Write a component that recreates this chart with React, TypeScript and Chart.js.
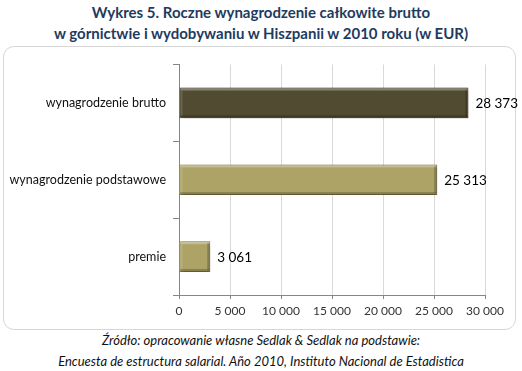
import React, { useEffect, useRef } from "react";
import { Chart, registerables } from "chart.js";

Chart.register(...registerables);

const titleLines = [
  "Wykres 5. Roczne wynagrodzenie całkowite brutto",
  "w górnictwie i wydobywaniu w Hiszpanii w 2010 roku (w EUR)",
];
const categories = ["wynagrodzenie brutto", "wynagrodzenie podstawowe", "premie"];
const values = [28373, 25313, 3061];
const valueLabels = ["28 373", "25 313", "3 061"];
const barColors = ["#504b31", "#ada366", "#ada366"];
const barBorders = ["#3a3622", "#857c48", "#857c48"];
const xTicks = [0, 5000, 10000, 15000, 20000, 25000, 30000];
const sourceLines = [
  "Źródło: opracowanie własne Sedlak & Sedlak na podstawie:",
  "Encuesta de estructura salarial. Año 2010, Instituto Nacional de Estadistica",
];

const fmt = (v: number) =>
  String(v).replace(/\B(?=(\d{3})+(?!\d))/g, " ");

const CANVAS_LEFT = 6;
const CANVAS_TOP = 50;
const CANVAS_W = 516;
const CANVAS_H = 276;

export default function App() {
  const ref = useRef<HTMLCanvasElement | null>(null);

  useEffect(() => {
    document.body.style.margin = "0";
    const canvas = ref.current;
    if (!canvas) return;

    const shadowPlugin = {
      id: "shadowPlugin",
      beforeDatasetsDraw(chart: any) {
        const ctx = chart.ctx;
        ctx.save();
        ctx.shadowColor = "rgba(0,0,0,0.35)";
        ctx.shadowBlur = 4;
        ctx.shadowOffsetX = 2;
        ctx.shadowOffsetY = 2;
      },
      afterDatasetsDraw(chart: any) {
        const ctx = chart.ctx;
        ctx.restore();
        const meta = chart.getDatasetMeta(0);
        meta.data.forEach((bar: any, i: number) => {
          const { x, y, base, height } = bar.getProps(["x", "y", "base", "height"], true);
          const top = y - height / 2;
          const left = base;
          const w = x - base;
          ctx.save();
          ctx.fillStyle = "rgba(255,255,255,0.3)";
          ctx.fillRect(left + 1, top + 1, w - 2, 2);
          ctx.fillStyle = "rgba(255,255,255,0.14)";
          ctx.fillRect(left + 1, top + 3, 2, height - 5);
          ctx.fillStyle = "rgba(0,0,0,0.22)";
          ctx.fillRect(left + 1, top + height - 3, w - 2, 2);
          ctx.fillRect(left + w - 3, top + 2, 2, height - 4);
          ctx.restore();
          ctx.save();
          ctx.fillStyle = "#000000";
          ctx.font = "13.5px Lato, 'Open Sans', sans-serif";
          ctx.textAlign = "left";
          ctx.textBaseline = "middle";
          ctx.fillText(valueLabels[i], x + 7, y + 1);
          ctx.restore();
        });
      },
    };

    const chart = new Chart(canvas, {
      type: "bar",
      data: {
        labels: categories,
        datasets: [
          {
            data: values,
            backgroundColor: barColors,
            borderColor: barBorders,
            borderWidth: 1,
            barPercentage: 0.4,
            categoryPercentage: 1,
          },
        ],
      },
      options: {
        indexAxis: "y",
        animation: false,
        responsive: false,
        maintainAspectRatio: false,
        layout: { padding: { top: 10, right: 37, left: 0, bottom: 0 } },
        plugins: {
          legend: { display: false },
          title: { display: false },
          tooltip: { enabled: false },
        },
        scales: {
          x: {
            min: 0,
            max: 30000,
            afterBuildTicks(scale: any) {
              scale.ticks = xTicks.map((v) => ({ value: v }));
            },
            afterFit(scale: any) {
              scale.height = 31;
            },
            grid: {
              color: "#d9d9d9",
              tickColor: "#868686",
              tickLength: 4,
              drawOnChartArea: true,
            },
            border: { color: "#868686" },
            ticks: {
              color: "#333333",
              font: { family: "Lato, 'Open Sans', sans-serif", size: 12 },
              padding: 5,
              maxRotation: 0,
              callback: (v: any) => fmt(Number(v)),
            },
          },
          y: {
            offset: true,
            afterFit(scale: any) {
              scale.width = 179 - CANVAS_LEFT;
            },
            grid: {
              offset: true,
              drawOnChartArea: false,
              tickColor: "#868686",
              tickLength: 6,
            },
            border: { color: "#868686" },
            ticks: {
              color: "#111111",
              font: { family: "Lato, 'Open Sans', sans-serif", size: 12.5 },
              padding: 7,
            },
          },
        },
      },
      plugins: [shadowPlugin],
    });

    return () => chart.destroy();
  }, []);

  return (
    <div
      style={{
        position: "relative",
        width: 522,
        height: 371,
        background: "#ffffff",
        overflow: "hidden",
      }}
    >
      <div
        style={{
          position: "absolute",
          top: 2,
          left: 0,
          width: 522,
          textAlign: "center",
          fontFamily: "Lato, 'Open Sans', sans-serif",
          fontWeight: 700,
          fontSize: 15,
          lineHeight: "21px",
          color: "#1f3b60",
        }}
      >
        {titleLines.map((t, i) => (
          <div key={i}>{t}</div>
        ))}
      </div>
      <div
        style={{
          position: "absolute",
          left: 3,
          top: 46,
          width: 511,
          height: 282,
          border: "1px solid #d6d6d6",
          borderRadius: 11,
        }}
      />
      <canvas
        ref={ref}
        width={CANVAS_W}
        height={CANVAS_H}
        style={{
          position: "absolute",
          left: CANVAS_LEFT,
          top: CANVAS_TOP,
          width: CANVAS_W,
          height: CANVAS_H,
        }}
      />
      <div
        style={{
          position: "absolute",
          top: 330,
          left: 0,
          width: 522,
          textAlign: "center",
          fontFamily: "Lato, 'Open Sans', sans-serif",
          fontStyle: "italic",
          fontSize: 13,
          lineHeight: "21px",
          color: "#111111",
        }}
      >
        {sourceLines.map((t, i) => (
          <div key={i}>{t}</div>
        ))}
      </div>
    </div>
  );
}
